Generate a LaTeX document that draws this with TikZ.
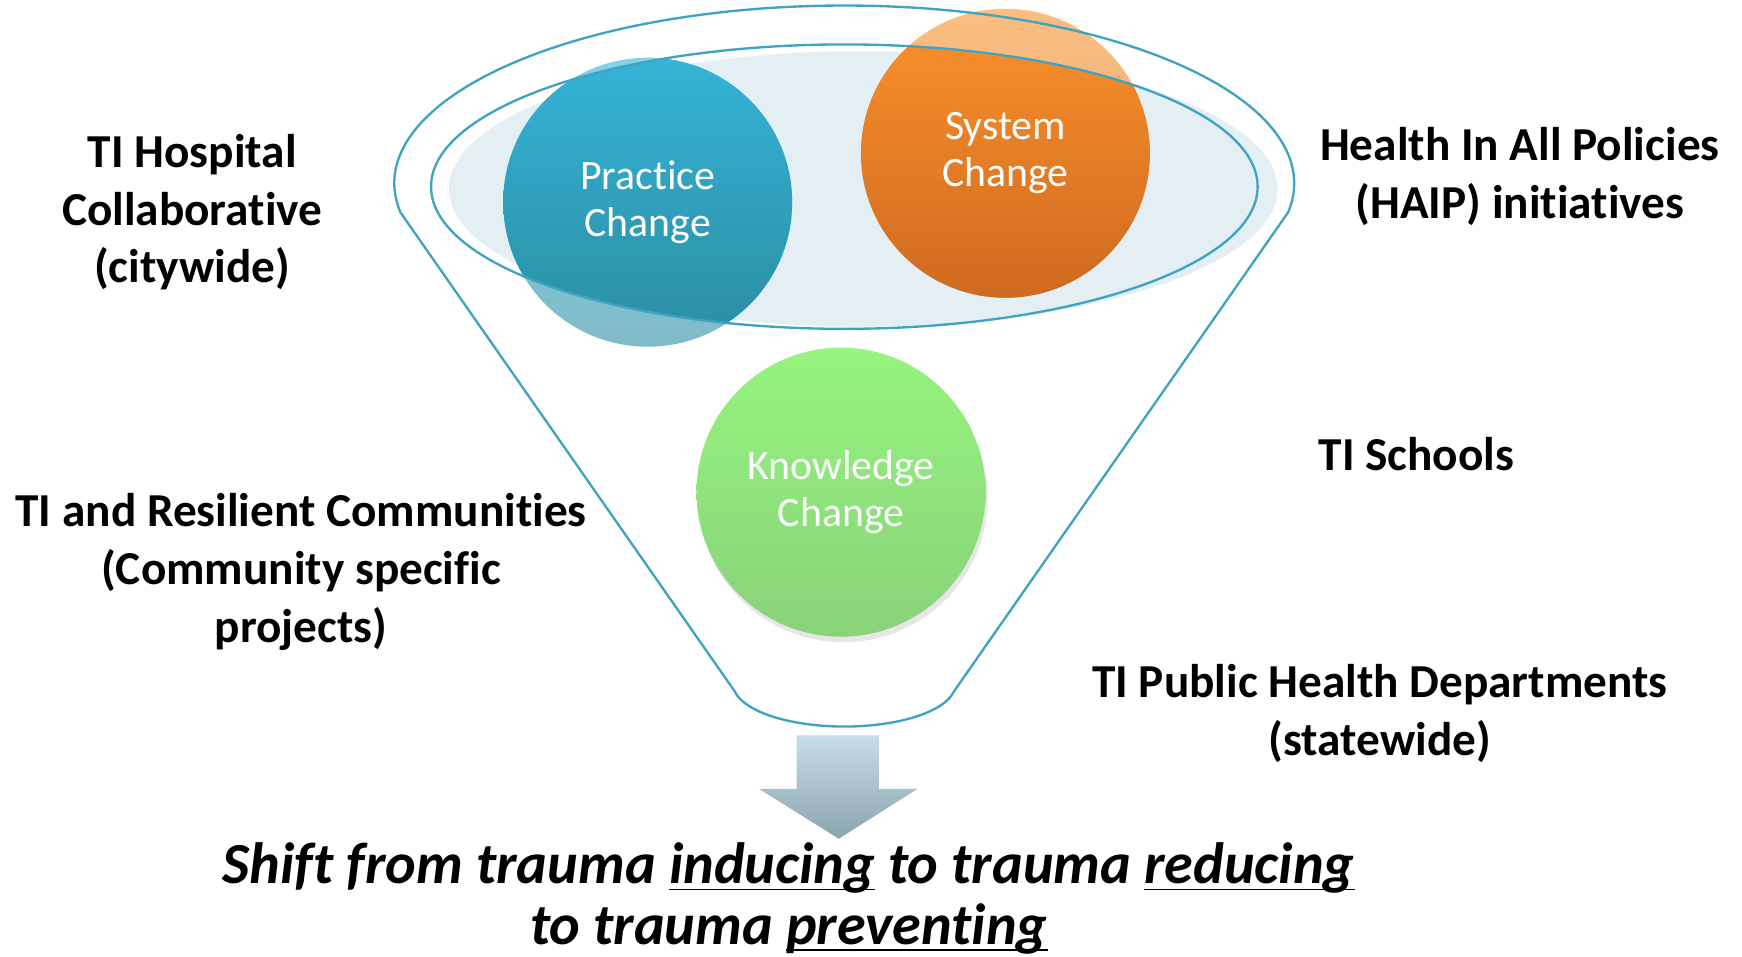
\documentclass[tikz,border=0pt]{standalone}
\usepackage{fontspec}
\setmainfont{Carlito}[Ligatures=NoCommon]
\usetikzlibrary{shadows}
\definecolor{funnel}{HTML}{3FA3C2}
\definecolor{rim}{HTML}{E4EFF4}
\definecolor{practop}{HTML}{35B3D6}
\definecolor{pracbot}{HTML}{2A8DA2}
\definecolor{systop}{HTML}{FB922C}
\definecolor{sysbot}{HTML}{CE6A20}
\definecolor{knowtop}{HTML}{96F47F}
\definecolor{knowbot}{HTML}{89D27A}
\definecolor{arrtop}{HTML}{C5DEE7}
\definecolor{arrbot}{HTML}{8BA5AF}
\newcommand\undr[1]{\underline{\smash{#1}}}
\begin{document}
\begin{tikzpicture}[x=0.01cm,y=-0.01cm]
\tikzstyle{bubble}=[circle,minimum size=2.6cm,inner sep=0pt,text=white,align=center,font=\fontsize{10.7}{12}\selectfont]
\tikzstyle{label}=[align=center,font=\fontsize{12.1}{14.8}\selectfont\bfseries]
\tikzstyle{edge}=[draw=funnel,line width=0.6pt]
\useasboundingbox (0,0) rectangle (1568,861);
% rim of the funnel
\fill[rim] (777,170) ellipse (373 and 124);
\begin{scope}
\clip (760,168) ellipse (372 and 128);
\shade[top color=practop,bottom color=pracbot] (583,182) circle (130);
\shade[top color=systop,bottom color=sysbot] (905,138) circle (130);
\end{scope}
\node[bubble,top color=practop,bottom color=pracbot,fill opacity=0.6,text opacity=1] (practice) at (583,182) {Practice\\Change};
\node[bubble,top color=systop,bottom color=sysbot,fill opacity=0.6,text opacity=1] (system) at (905,138) {System\\Change};
\node[bubble,top color=knowtop,bottom color=knowbot,drop shadow={opacity=0.2,shadow xshift=0.02cm,shadow yshift=-0.05cm}] (knowledge) at (757,443) {Knowledge\\Change};
% funnel outline
\draw[edge] (360.4,191.1) arc[start angle=170.6,end angle=369.4,x radius=405,y radius=160]
  -- (858.5,622.6) arc[start angle=10,end angle=170,x radius=100,y radius=38] -- cycle;
\draw[edge] (760,168) ellipse (372 and 128);
% arrow out of the funnel
\shade[top color=arrtop,bottom color=arrbot] (717,662) -- (791,662) -- (791,710) -- (826,710)
  -- (755,755) -- (683,710) -- (717,710) -- cycle;
% labels
\node[label] (hospital) at (173,191) {TI Hospital\\Collaborative\\(citywide)};
\node[label] (haip) at (1368,159) {Health In All Policies\\(HAIP) initiatives};
\node[label] (schools) at (1275,409) {TI Schools};
\node[label] (communities) at (271,515) {TI and Resilient Communities\\(Community specific\\projects)};
\node[label] (publichealth) at (1242,642) {TI Public Health Departments\\(statewide)};
\node[align=center,font=\fontsize{14.9}{15.6}\selectfont\bfseries\itshape] (shift) at (710,809)
  {Shift from trauma \undr{inducing} to trauma \undr{reducing}\\to trauma \undr{preventing}\vphantom{g}};
\end{tikzpicture}
\end{document}
